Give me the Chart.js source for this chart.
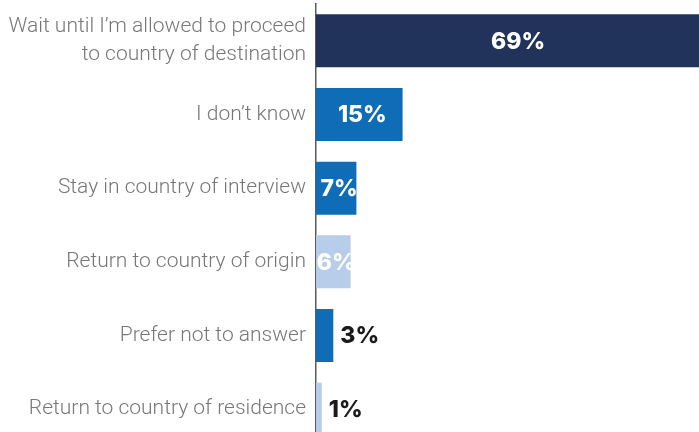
<!DOCTYPE html>
<html>
<head>
<meta charset="utf-8">
<script src="https://cdn.jsdelivr.net/npm/chart.js@4/dist/chart.umd.min.js"></script>
<style>
html,body{margin:0;padding:0;background:#fff;overflow:hidden;width:699px;height:432px;}
#wrap{position:absolute;left:0;top:0;width:720px;height:446px;}
</style>
</head>
<body>
<div id="wrap"><canvas id="c" width="720" height="446"></canvas></div>
<script>
const categories = [
  ["Wait until I\u2019m allowed to proceed", "to country of destination"],
  "I don\u2019t know",
  "Stay in country of interview",
  "Return to country of origin",
  "Prefer not to answer",
  "Return to country of residence"
];
const values = [69, 15, 7, 6, 3, 1];
const barColors = ["#21335b", "#0f6db8", "#0f6db8", "#b7cdea", "#0f6db8", "#b7cdea"];
const valueLabels = ["69%", "15%", "7%", "6%", "3%", "1%"];

const valuePlugin = {
  id: 'valuePlugin',
  afterDatasetsDraw(chart) {
    const ctx = chart.ctx;
    const meta = chart.getDatasetMeta(0);
    ctx.save();
    ctx.font = '800 23px Inter, "Open Sans", sans-serif';
    ctx.textBaseline = 'middle';
    meta.data.forEach((bar, i) => {
      const txt = valueLabels[i];
      const w = ctx.measureText(txt).width;
      const left = bar.base, right = bar.x;
      const bw = right - left;
      if (w <= bw + 6) {
        ctx.fillStyle = '#ffffff';
        ctx.textAlign = 'center';
        ctx.fillText(txt, (left + right) / 2 + 3, bar.y + 1);
      } else {
        ctx.fillStyle = '#1a1a1a';
        ctx.textAlign = 'left';
        ctx.fillText(txt, right + 7, bar.y + 1);
      }
    });
    ctx.restore();
  }
};

new Chart(document.getElementById('c'), {
  type: 'bar',
  data: {
    labels: categories,
    datasets: [{
      data: values,
      backgroundColor: barColors,
      borderWidth: 0,
      barPercentage: 0.72,
      categoryPercentage: 1.0
    }]
  },
  options: {
    indexAxis: 'y',
    responsive: false,
    animation: false,
    devicePixelRatio: 1,
    layout: { padding: { top: 4, right: 0, bottom: 0, left: 0 } },
    plugins: { legend: { display: false }, tooltip: { enabled: false } },
    scales: {
      x: { display: false, min: 0, max: 70 },
      y: {
        grid: { display: false, drawTicks: false },
        border: { display: true, color: '#5a5a5a', width: 1.5 },
        ticks: {
          color: '#777777',
          padding: 10,
          font: { family: 'Roboto', weight: 300, size: 21, lineHeight: 1.3 }
        },
        afterFit(axis) {
          axis.width = 316;
          axis.paddingTop = 0;
          axis.paddingBottom = 0;
        }
      }
    }
  },
  plugins: [valuePlugin]
});
</script>
</body>
</html>
